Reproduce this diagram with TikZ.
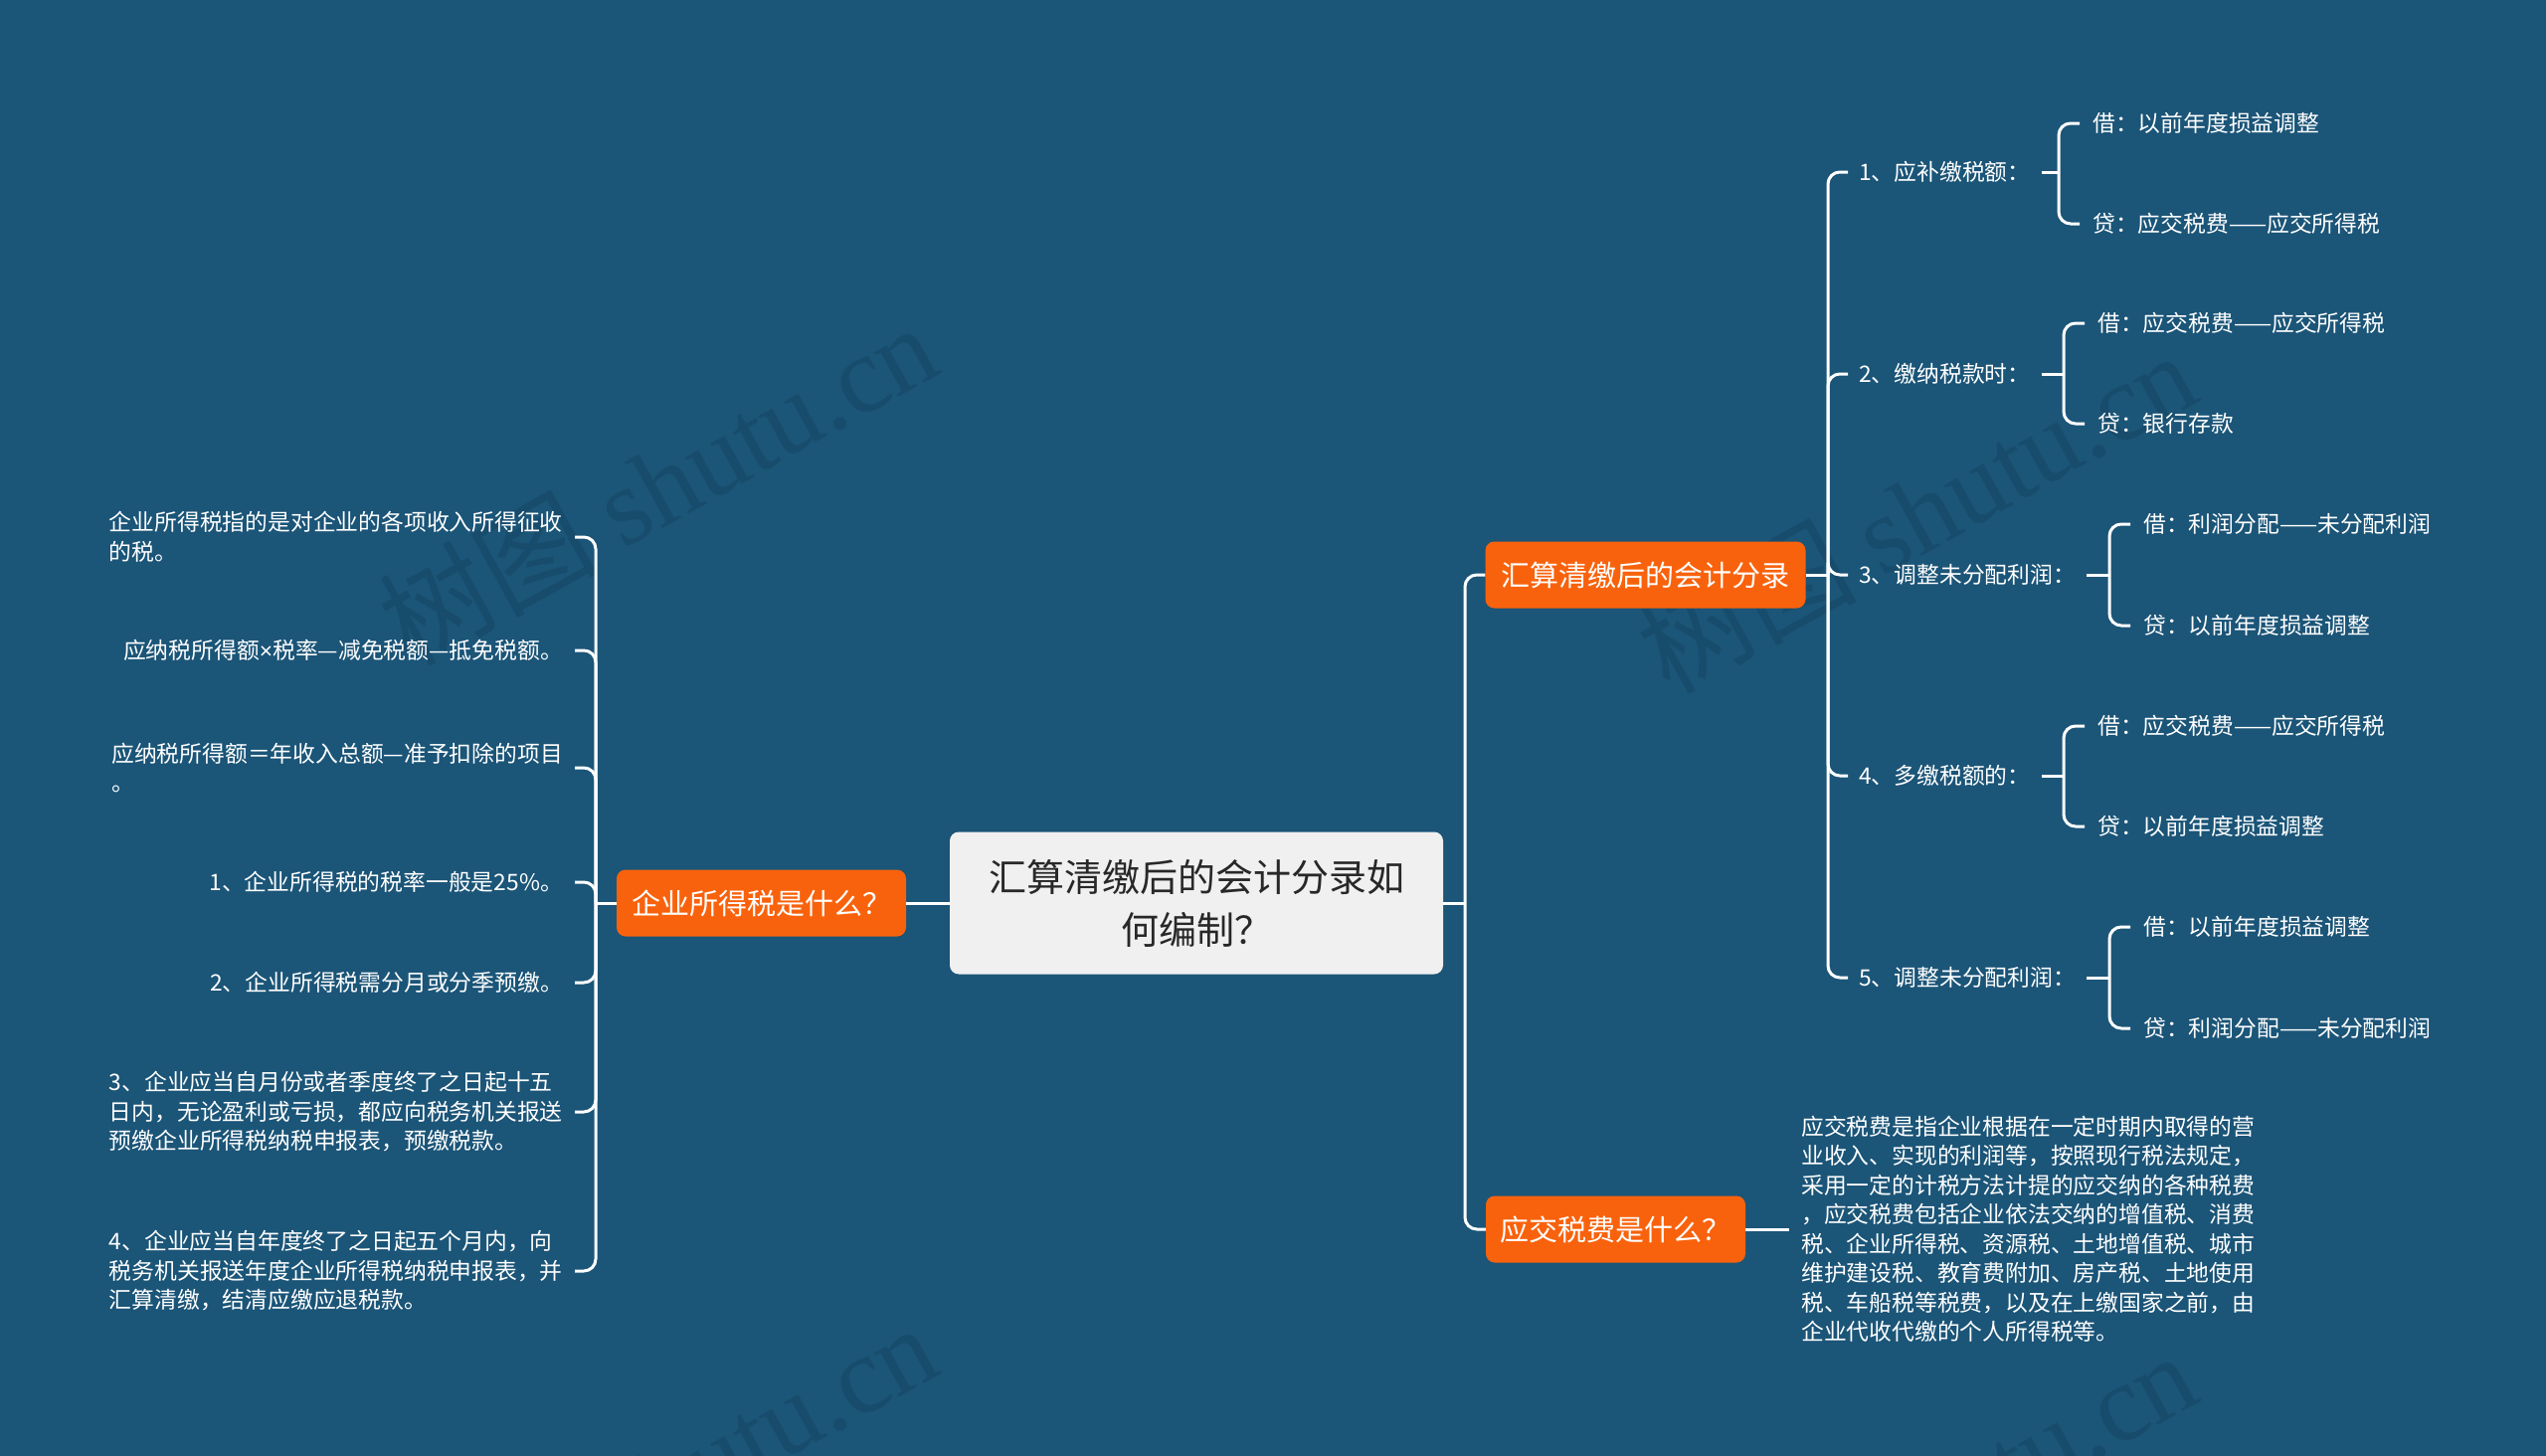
\documentclass[tikz,border=0pt]{standalone}
\usepackage{fontspec}
\setmainfont{Noto Sans CJK SC}
\newfontfamily\wmserif{Liberation Serif}
\newfontfamily\latinsans{Liberation Sans}
\definecolor{bgblue}{RGB}{27,85,120}
\definecolor{wmcol}{RGB}{24,76,108}
\definecolor{orng}{RGB}{249,98,12}
\definecolor{boxgray}{RGB}{240,240,240}
\definecolor{textdark}{RGB}{40,40,40}
\begin{document}
\begin{tikzpicture}[x=1pt,y=-1pt,
  conn/.style={draw=white,line width=3pt,rounded corners=12pt},
  cbox/.style={fill=boxgray,rounded corners=9pt,minimum width=496pt,minimum height=143pt,inner sep=0pt,align=center,text=textdark,font=\fontsize{38}{53}\selectfont},
  obox/.style={fill=orng,rounded corners=9pt,minimum height=67pt,inner sep=0pt,text=white,font=\fontsize{29}{34}\selectfont},
  leafL/.style={anchor=east,inner xsep=12pt,inner ysep=0pt,align=left,text=white,font=\fontsize{22.8}{29.5}\selectfont},
  leafR/.style={anchor=west,inner xsep=11pt,inner ysep=0pt,align=left,text=white,font=\fontsize{22.8}{29.5}\selectfont},
  leafB/.style={anchor=west,inner xsep=13pt,inner ysep=0pt,align=left,text=white,font=\fontsize{22.8}{29.5}\selectfont},
  wm/.style={text=wmcol,font=\fontsize{110}{110}\selectfont,rotate=29,inner sep=0pt}
]
\useasboundingbox (0,0) rectangle (2560,1464);
\fill[bgblue] (0,0) rectangle (2560,1464);
\begin{scope}
\clip (0,0) rectangle (2560,1464);
\node[wm] (wm1) at (661,486) {树图 {\wmserif shutu.cn}};
\node[wm] (wm2) at (1927,514) {树图 {\wmserif shutu.cn}};
\node[wm] (wm3) at (661,1492) {树图 {\wmserif shutu.cn}};
\node[wm] (wm4) at (1927,1520) {树图 {\wmserif shutu.cn}};
\end{scope}

% central and main branches
\node[cbox] (c) at (1203,908) {汇算清缴后的会计分录如\\何编制？};
\node[obox,minimum width=291pt] (L) at (765.5,908) {企业所得税是什么？};
\node[obox,minimum width=322pt] (R1) at (1654.5,578) {汇算清缴后的会计分录};
\node[obox,minimum width=261pt] (R2) at (1624.5,1236) {应交税费是什么？};

\coordinate (jC) at (1473,908);
\coordinate (jL) at (599,908);
\coordinate (jR1) at (1838,578);

\draw[conn] (c.west) -- (L.east);
\draw[conn] (c.east) -- (jC);
\draw[conn] (jC) |- (R1.west);
\draw[conn] (jC) |- (R2.west);

% left leaves
\node[leafL] (l1) at (578,540) {企业所得税指的是对企业的各项收入所得征收\\的税。};
\node[leafL] (l2) at (578,654) {应纳税所得额{\latinsans ×}税率—减免税额—抵免税额。};
\node[leafL] (l3) at (578,772) {应纳税所得额＝年收入总额—准予扣除的项目\\。};
\node[leafL] (l4) at (578,887) {1、企业所得税的税率一般是25\%。};
\node[leafL] (l5) at (578,988) {2、企业所得税需分月或分季预缴。};
\node[leafL] (l6) at (578,1118) {3、企业应当自月份或者季度终了之日起十五\\日内，无论盈利或亏损，都应向税务机关报送\\预缴企业所得税纳税申报表，预缴税款。};
\node[leafL] (l7) at (578,1278) {4、企业应当自年度终了之日起五个月内，向\\税务机关报送年度企业所得税纳税申报表，并\\汇算清缴，结清应缴应退税款。};

\draw[conn] (L.west) -- (jL);
\foreach \n in {l1,l2,l3,l4,l5,l6,l7} { \draw[conn] (jL) |- (\n.east); }

% right branch 1
\draw[conn] (R1.east) -- (jR1);
\node[leafR] (a1) at (1858,173) {1、应补缴税额：};
\node[leafR] (a2) at (1858,376) {2、缴纳税款时：};
\node[leafR] (a3) at (1858,578) {3、调整未分配利润：};
\node[leafR] (a4) at (1858,780) {4、多缴税额的：};
\node[leafR] (a5) at (1858,983) {5、调整未分配利润：};
\foreach \n in {a1,a2,a3,a4,a5} { \draw[conn] (jR1) |- (\n.west); }

\coordinate (ja1) at (2070,173);
\coordinate (ja2) at (2075,376);
\coordinate (ja3) at (2121,578);
\coordinate (ja4) at (2075,780);
\coordinate (ja5) at (2121,983);

\node[leafB] (b11) at (2091,124) {借：以前年度损益调整};
\node[leafB] (b12) at (2091,225) {贷：应交税费——应交所得税};
\node[leafB] (b21) at (2096,325) {借：应交税费——应交所得税};
\node[leafB] (b22) at (2096,426) {贷：银行存款};
\node[leafB] (b31) at (2142,527) {借：利润分配——未分配利润};
\node[leafB] (b32) at (2142,629) {贷：以前年度损益调整};
\node[leafB] (b41) at (2096,730) {借：应交税费——应交所得税};
\node[leafB] (b42) at (2096,831) {贷：以前年度损益调整};
\node[leafB] (b51) at (2142,932) {借：以前年度损益调整};
\node[leafB] (b52) at (2142,1034) {贷：利润分配——未分配利润};

\foreach \k in {1,...,5} {
  \draw[conn] (a\k.east) -- (ja\k);
  \draw[conn] (ja\k) |- (b\k1.west);
  \draw[conn] (ja\k) |- (b\k2.west);
}

% right branch 2
\node[leafR,inner xsep=12pt] (t) at (1799,1236) {应交税费是指企业根据在一定时期内取得的营\\业收入、实现的利润等，按照现行税法规定，\\采用一定的计税方法计提的应交纳的各种税费\\，应交税费包括企业依法交纳的增值税、消费\\税、企业所得税、资源税、土地增值税、城市\\维护建设税、教育费附加、房产税、土地使用\\税、车船税等税费，以及在上缴国家之前，由\\企业代收代缴的个人所得税等。};
\draw[conn] (R2.east) -- (t.west);
\end{tikzpicture}
\end{document}
